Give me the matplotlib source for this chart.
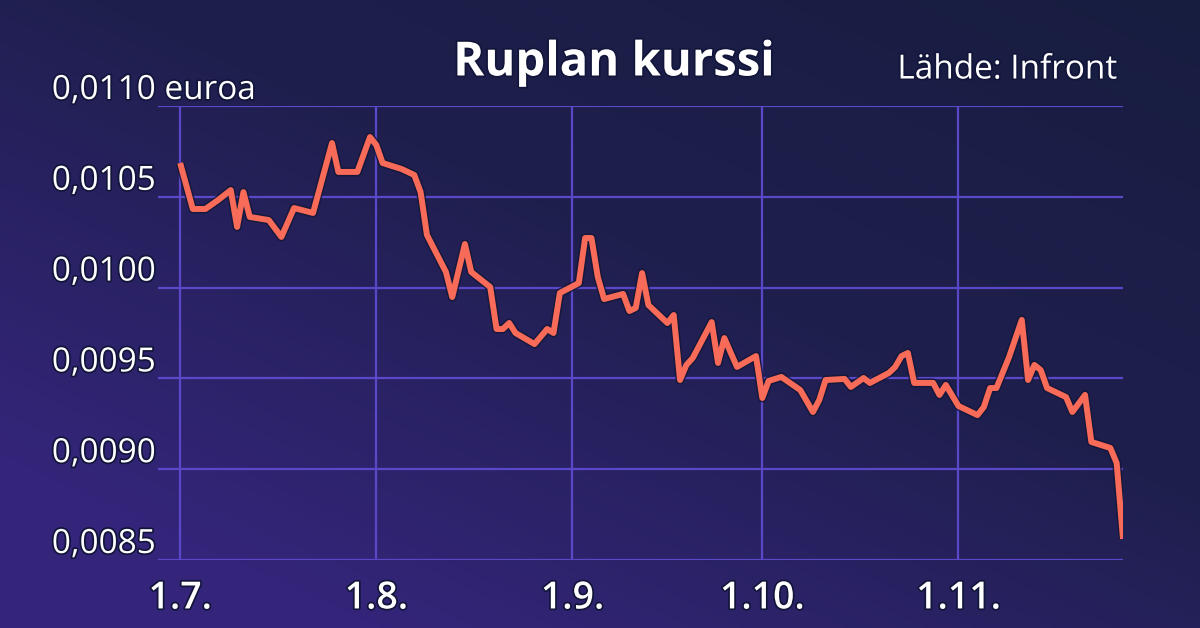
import matplotlib.pyplot as plt
import matplotlib.patheffects as pe
import matplotlib.transforms as mtransforms
import numpy as np
from matplotlib.colors import LinearSegmentedColormap

# days since 1.7., rouble price in euros
days = [0, 2, 4, 6, 8, 9, 10, 11, 14, 16, 18, 21, 24, 25, 28, 30, 31, 32, 35, 37,
        38, 39, 42, 43, 45, 46, 49, 50, 51, 52, 53, 56, 58, 59, 60, 63, 64, 65, 66, 67,
        70, 71, 72, 73, 74, 77, 78, 79, 80, 81, 84, 85, 86, 88, 91, 92, 93, 95, 98, 100,
        101, 102, 105, 106, 108, 109, 112, 113, 114, 115, 116, 119, 120, 121, 123, 126, 127, 128, 129, 131,
        133, 134, 135, 136, 137, 140, 141, 143, 144, 147, 148, 149]
rate = [0.010686, 0.010433, 0.010433, 0.010482, 0.010537, 0.010334, 0.010526, 0.010389, 0.010372, 0.010279,
        0.010438, 0.010411, 0.010796, 0.010637, 0.010637, 0.010829, 0.010785, 0.010686, 0.010653, 0.010620,
        0.010526, 0.010290, 0.010086, 0.009948, 0.010240, 0.010086, 0.010003, 0.009772, 0.009772, 0.009805,
        0.009750, 0.009689, 0.009772, 0.009750, 0.009970, 0.010025, 0.010273, 0.010273, 0.010058, 0.009937,
        0.009965, 0.009871, 0.009888, 0.010080, 0.009904, 0.009805, 0.009849, 0.009491, 0.009574, 0.009612,
        0.009810, 0.009585, 0.009722, 0.009563, 0.009623, 0.009392, 0.009486, 0.009508, 0.009436, 0.009315,
        0.009381, 0.009491, 0.009497, 0.009453, 0.009502, 0.009475, 0.009530, 0.009563, 0.009623, 0.009640,
        0.009475, 0.009475, 0.009409, 0.009464, 0.009348, 0.009298, 0.009342, 0.009447, 0.009447, 0.009618,
        0.009822, 0.009491, 0.009574, 0.009546, 0.009447, 0.009397, 0.009315, 0.009409, 0.009150, 0.009117,
        0.009034, 0.008616]

month_days = [0, 31, 62, 92, 123]
month_labels = ["1.7.", "1.8.", "1.9.", "1.10.", "1.11."]
y_ticks = [0.0085, 0.0090, 0.0095, 0.0100, 0.0105, 0.0110]
y_labels = ["0,0085", "0,0090", "0,0095", "0,0100", "0,0105", "0,0110 euroa"]

FONT = "Open Sans"
GRID = "#5a48c9"
LINE = "#f86b58"
shadow = [pe.withStroke(linewidth=2.5, foreground="#12153a")]

fig = plt.figure(figsize=(12, 6.28), dpi=100)

# diagonal gradient background
bg = fig.add_axes([0, 0, 1, 1], zorder=-10)
gx, gy = np.meshgrid(np.linspace(0, 1, 300), np.linspace(0, 1, 160))
grad = np.clip(0.65 * (1 - gx) + 0.75 * gy, 0, 1.2) / 1.2
cmap = LinearSegmentedColormap.from_list("bg", ["#171d3f", "#1f1f4e", "#34257a"])
bg.imshow(grad, cmap=cmap, aspect="auto", origin="upper", extent=[0, 1, 0, 1])
bg.axis("off")

ax = fig.add_axes([158 / 1200, 68 / 628, 965 / 1200, 454 / 628])
ax.set_facecolor("none")
ax.set_xlim(-3.5, 149)
ax.set_ylim(0.0085, 0.0110)

for v in y_ticks:
    ax.axhline(v, color=GRID, lw=1.6, zorder=1)
for d in month_days:
    ax.axvline(d, color=GRID, lw=1.6, zorder=1)

ax.plot(days, rate, color=LINE, lw=4.3, solid_joinstyle="round", solid_capstyle="butt", zorder=3,
        path_effects=[pe.Stroke(linewidth=6.5, foreground="#141636", alpha=0.8), pe.Normal()])

for s in ax.spines.values():
    s.set_visible(False)
ax.set_yticks([])
ax.set_xticks(month_days)
ax.set_xticklabels(month_labels, fontsize=27, fontfamily=FONT, fontweight="semibold", color="white")
ax.tick_params(axis="x", length=0, pad=14)
for lbl in ax.get_xticklabels():
    lbl.set_path_effects(shadow)

ytrans = mtransforms.offset_copy(ax.get_yaxis_transform(), fig=fig, y=7, units="dots")
for v, lab in zip(y_ticks, y_labels):
    ax.text(-0.11, v, lab, transform=ytrans, ha="left", va="baseline", fontsize=24,
            fontfamily=FONT, color="white", path_effects=shadow)

fig.text(614 / 1200, 1 - 63 / 628, "Ruplan kurssi", ha="center", va="center", fontsize=34,
         fontfamily=FONT, fontweight="bold", color="white", path_effects=shadow)
fig.text(1118 / 1200, 1 - 70 / 628, "Lähde: Infront", ha="right", va="center", fontsize=24,
         fontfamily=FONT, color="white", path_effects=shadow)

fig.savefig("out.png", dpi=100)
